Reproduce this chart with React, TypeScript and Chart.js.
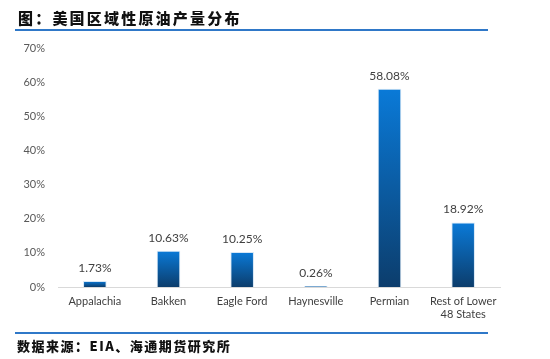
import React, { useEffect, useRef } from "react";
import { Chart, registerables } from "chart.js";

Chart.register(...registerables);

const categories: (string | string[])[] = ["Appalachia", "Bakken", "Eagle Ford", "Haynesville", "Permian", ["Rest of Lower", "48 States"]];
const values: number[] = [1.73, 10.63, 10.25, 0.26, 58.08, 18.92];
const valueLabels: string[] = ["1.73%", "10.63%", "10.25%", "0.26%", "58.08%", "18.92%"];
const yTicks: number[] = [0, 10, 20, 30, 40, 50, 60, 70];

const TITLE = "图：美国区域性原油产量分布";
const SOURCE = "数据来源：EIA、海通期货研究所";

const labelPlugin = {
  id: "valueLabels",
  afterDatasetsDraw(chart: any) {
    const ctx = chart.ctx;
    const meta = chart.getDatasetMeta(0);
    ctx.save();
    ctx.font = "12px Lato, 'Open Sans', sans-serif";
    ctx.fillStyle = "#404040";
    ctx.textAlign = "center";
    ctx.textBaseline = "bottom";
    meta.data.forEach((el: any, i: number) => {
      ctx.fillText(valueLabels[i], el.x, el.y - 7);
    });
    ctx.restore();
  },
};

export default function App() {
  const ref = useRef<HTMLCanvasElement>(null);
  useEffect(() => {
    if (!ref.current) return;
    const chart = new Chart(ref.current, {
      type: "bar",
      data: {
        labels: categories as any,
        datasets: [
          {
            data: values,
            backgroundColor: (c: any) => {
              const ch = c.chart;
              const ys = ch.scales?.y;
              if (!ys || c.dataIndex === undefined) return "#0a6fc4";
              const v = values[c.dataIndex];
              const top = ys.getPixelForValue(v);
              const bot = ys.getPixelForValue(0);
              if (!isFinite(top) || !isFinite(bot) || bot - top < 0.5) return "#0a6fc4";
              const g = ch.ctx.createLinearGradient(0, top, 0, bot);
              g.addColorStop(0, "#0a7ad8");
              g.addColorStop(1, "#0c3d6c");
              return g;
            },
            borderColor: "rgba(210,228,245,0.9)",
            borderWidth: { left: 1, right: 1, top: 1, bottom: 0 } as any,
            barPercentage: 0.32,
            categoryPercentage: 1,
          },
        ],
      },
      options: {
        animation: false,
        responsive: false,
        maintainAspectRatio: false,
        layout: { padding: { left: 8, right: 50, top: 48, bottom: 30 } },
        plugins: { legend: { display: false }, tooltip: { enabled: false } },
        scales: {
          x: {
            grid: { display: false, drawTicks: false },
            border: { display: true, color: "#d9d9d9", width: 1 },
            ticks: {
              color: "#404040",
              font: { family: "Lato, 'Open Sans', sans-serif", size: 11 },
              padding: 8,
              maxRotation: 0,
              autoSkip: false,
            },
            afterFit: (a: any) => {
              a.height = 42;
            },
          },
          y: {
            min: 0,
            max: 70,
            afterBuildTicks: (a: any) => {
              a.ticks = yTicks.map((v) => ({ value: v }));
            },
            grid: { display: false, drawTicks: false },
            border: { display: false },
            ticks: {
              color: "#595959",
              font: { family: "Lato, 'Open Sans', sans-serif", size: 11 },
              padding: 13,
              callback: (v: any) => v + "%",
            },
            afterFit: (a: any) => {
              a.width = 50;
            },
          },
        },
      },
      plugins: [labelPlugin],
    });
    return () => chart.destroy();
  }, []);

  return (
    <div style={{ position: "absolute", left: 0, top: 0, width: 550, height: 359, background: "#fff", overflow: "hidden" }}>
      <canvas ref={ref} width={550} height={359} style={{ position: "absolute", left: 0, top: 0 }} />
      <div
        style={{
          position: "absolute",
          left: 18,
          top: 8,
          fontFamily: "'Noto Sans CJK SC', sans-serif",
          fontWeight: 900,
          fontSize: 15,
          letterSpacing: 2.2,
          color: "#111",
          lineHeight: "20px",
          whiteSpace: "nowrap",
        }}
      >
        {TITLE}
      </div>
      <div style={{ position: "absolute", left: 15, top: 29, width: 473, height: 2, background: "#2f78c8" }} />
      <div style={{ position: "absolute", left: 15, top: 332, width: 473, height: 2, background: "#2f78c8" }} />
      <div
        style={{
          position: "absolute",
          left: 17,
          top: 337,
          fontFamily: "'Noto Sans CJK SC', sans-serif",
          fontWeight: 900,
          fontSize: 13,
          letterSpacing: 1.5,
          color: "#111",
          lineHeight: "18px",
          whiteSpace: "nowrap",
        }}
      >
        {SOURCE}
      </div>
    </div>
  );
}
